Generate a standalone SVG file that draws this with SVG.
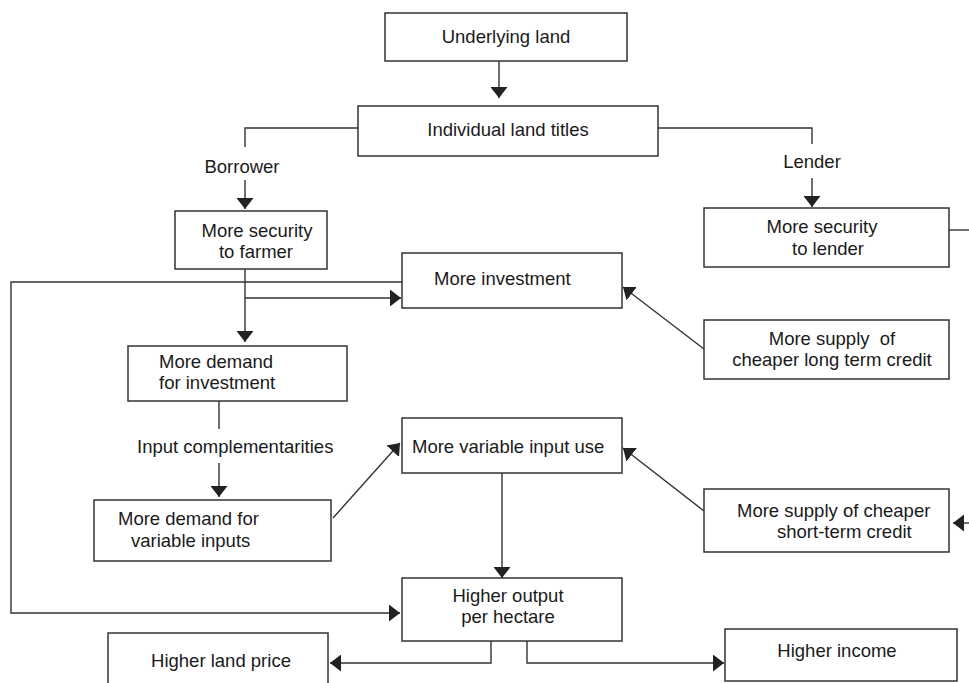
<svg xmlns="http://www.w3.org/2000/svg" width="969" height="683" viewBox="0 0 969 683">
<style>
.box{fill:#fff;stroke:#333;stroke-width:1.5}
.ln{fill:none;stroke:#333;stroke-width:1.4}
.arr{marker-end:url(#ah)}
text{font-family:"Liberation Sans",Arial,sans-serif;font-size:18.5px;fill:#1a1a1a}
.c{text-anchor:middle}
</style>
<defs>
<marker id="ah" viewBox="0 0 11 17" refX="11" refY="8.5" markerWidth="11" markerHeight="17" markerUnits="userSpaceOnUse" orient="auto">
<path d="M0,0 L11,8.5 L0,17 Z" fill="#222"/>
</marker>
</defs>
<rect width="969" height="683" fill="#fff"/>
<g id="connectors">
<line class="ln arr" x1="499" y1="61" x2="499" y2="98"/>
<polyline class="ln" points="358,128 245,128 245,147"/>
<line class="ln arr" x1="245" y1="180" x2="245" y2="209"/>
<polyline class="ln" points="658,128 812,128 812,144"/>
<line class="ln arr" x1="812" y1="178" x2="812" y2="207"/>
<line class="ln" x1="949" y1="230" x2="969" y2="230"/>
<line class="ln arr" x1="245" y1="269" x2="245" y2="342"/>
<line class="ln arr" x1="245" y1="298" x2="401" y2="298"/>
<polyline class="ln arr" points="402,282 11,282 11,613 400,613"/>
<line class="ln arr" x1="704" y1="349" x2="623" y2="287"/>
<line class="ln" x1="219" y1="401" x2="219" y2="429"/>
<line class="ln arr" x1="219" y1="463" x2="219" y2="497"/>
<line class="ln arr" x1="333" y1="518" x2="400" y2="443"/>
<line class="ln arr" x1="704" y1="511" x2="623" y2="448"/>
<line class="ln arr" x1="969" y1="523" x2="953" y2="523"/>
<line class="ln arr" x1="502" y1="473" x2="502" y2="578"/>
<polyline class="ln arr" points="491,641 491,663 330,663"/>
<polyline class="ln arr" points="527,641 527,663 724,663"/>
</g>
<g id="underlying-land">
<rect class="box" x="385" y="13" width="242" height="48"/>
<text class="c" x="506" y="43">Underlying land</text>
</g>
<g id="individual-land-titles">
<rect class="box" x="358" y="106" width="300" height="50"/>
<text class="c" x="508" y="136">Individual land titles</text>
</g>
<g id="borrower-label">
<text class="c" x="242" y="173">Borrower</text>
</g>
<g id="lender-label">
<text class="c" x="812" y="168">Lender</text>
</g>
<g id="security-farmer">
<rect class="box" x="175" y="211" width="152" height="58"/>
<text class="c" x="257" y="237">More security</text>
<text class="c" x="256" y="258">to farmer</text>
</g>
<g id="security-lender">
<rect class="box" x="704" y="208" width="245" height="59"/>
<text class="c" x="822" y="233">More security</text>
<text class="c" x="828" y="255">to lender</text>
</g>
<g id="more-investment">
<rect class="box" x="402" y="253" width="220" height="55"/>
<text x="434" y="285">More investment</text>
</g>
<g id="long-term-credit">
<rect class="box" x="704" y="320" width="245" height="59"/>
<text class="c" x="832" y="345" xml:space="preserve">More supply  of</text>
<text class="c" x="832" y="366">cheaper long term credit</text>
</g>
<g id="demand-investment">
<rect class="box" x="128" y="346" width="219" height="55"/>
<text x="159" y="368">More demand</text>
<text x="159" y="389">for investment</text>
</g>
<g id="input-complementarities">
<text x="137" y="453">Input complementarities</text>
</g>
<g id="variable-input-use">
<rect class="box" x="402" y="418" width="220" height="55"/>
<text x="412" y="453">More variable input use</text>
</g>
<g id="demand-variable-inputs">
<rect class="box" x="94" y="500" width="237" height="61"/>
<text x="118" y="525">More demand for</text>
<text x="131" y="547">variable inputs</text>
</g>
<g id="short-term-credit">
<rect class="box" x="704" y="489" width="245" height="63"/>
<text x="737" y="517">More supply of cheaper</text>
<text x="777" y="538">short-term credit</text>
</g>
<g id="higher-output">
<rect class="box" x="402" y="578" width="220" height="63"/>
<text class="c" x="508" y="602">Higher output</text>
<text class="c" x="508" y="623">per hectare</text>
</g>
<g id="higher-land-price">
<rect class="box" x="108" y="633" width="220" height="60"/>
<text class="c" x="221" y="667">Higher land price</text>
</g>
<g id="higher-income">
<rect class="box" x="725" y="629" width="232" height="52"/>
<text class="c" x="837" y="657">Higher income</text>
</g>
</svg>
